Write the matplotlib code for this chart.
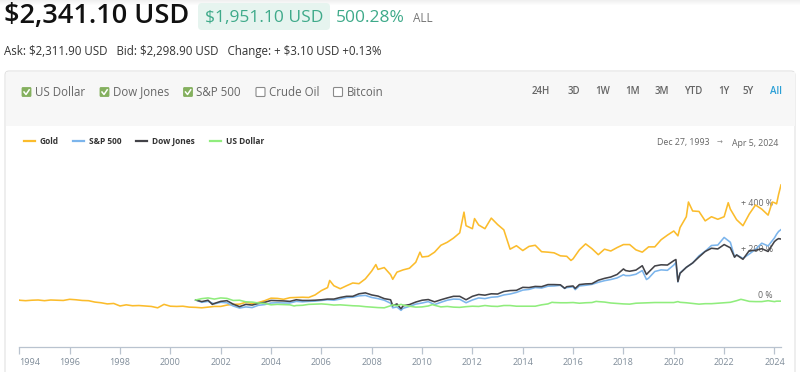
import pandas as pd
import matplotlib
matplotlib.use("Agg")
import matplotlib.pyplot as plt
from matplotlib.patches import FancyBboxPatch, Rectangle
from matplotlib.lines import Line2D
from matplotlib.transforms import Affine2D

plt.rcParams['font.family'] = ['Open Sans', 'DejaVu Sans']

# percent change from first value
gold_dates = ["1993-12-27",
    "1994-01", "1994-04", "1994-07", "1994-10", "1995-01", "1995-04", "1995-07", "1995-10",
    "1996-01", "1996-04", "1996-07", "1996-10", "1997-01", "1997-04", "1997-07", "1997-10",
    "1998-01", "1998-04", "1998-07", "1998-10", "1999-01", "1999-04", "1999-07", "1999-10",
    "2000-01", "2000-04", "2000-07", "2000-10", "2001-01", "2001-04", "2001-07", "2001-10",
    "2002-01", "2002-04", "2002-07", "2002-10", "2003-01", "2003-04", "2003-07", "2003-10",
    "2004-01", "2004-04", "2004-07", "2004-10", "2005-01", "2005-04", "2005-07", "2005-10",
    "2006-01", "2006-04", "2006-05", "2006-07", "2006-10", "2007-01", "2007-04", "2007-07", "2007-10",
    "2008-01", "2008-03", "2008-04", "2008-07", "2008-10", "2008-11",
    "2009-01", "2009-04", "2009-07", "2009-10", "2009-12", "2010-01", "2010-04", "2010-07", "2010-10",
    "2011-01", "2011-04", "2011-07", "2011-09", "2011-10", "2012-01", "2012-02", "2012-04", "2012-07", "2012-10",
    "2013-01", "2013-04", "2013-07", "2013-10", "2014-01", "2014-04", "2014-07", "2014-10",
    "2015-01", "2015-04", "2015-07", "2015-10", "2015-12", "2016-01", "2016-04", "2016-07", "2016-10",
    "2017-01", "2017-04", "2017-07", "2017-10", "2018-01", "2018-04", "2018-07", "2018-10",
    "2019-01", "2019-04", "2019-07", "2019-10", "2020-01", "2020-03", "2020-04", "2020-07", "2020-08", "2020-10",
    "2021-01", "2021-04", "2021-07", "2021-10", "2022-01", "2022-03", "2022-04", "2022-07", "2022-10",
    "2023-01", "2023-04", "2023-07", "2023-10", "2023-12", "2024-01", "2024-02", "2024-03", "2024-04-05"]
gold_pct = [0,
    -1, -3, -1, 0, -3, 0, -1, -2,
    3, 1, -2, -3, -9, -12, -17, -15,
    -26, -21, -25, -24, -26, -28, -34, -19,
    -27, -28, -27, -31, -32, -34, -31, -28,
    -28, -22, -19, -18, -10, -15, -11, -3,
    8, 7, 3, 10, 11, 12, 11, 22,
    41, 54, 85, 62, 49, 62, 74, 71, 92,
    126, 154, 133, 141, 110, 90,
    121, 131, 138, 164, 208, 187, 190, 208, 238,
    251, 269, 292, 382, 323, 310, 354, 326, 310, 356,
    328, 305, 221, 236, 215, 233, 238, 210,
    208, 205, 192, 190, 172, 179, 218, 244, 223,
    197, 221, 213, 228, 241, 241, 218, 208,
    231, 231, 262, 282, 300, 279, 315, 362, 426, 387,
    385, 344, 362, 351, 362, 423, 395, 349, 323,
    374, 413, 395, 369, 426, 423, 418, 459, 500.28]

sp_dates = ["2001-01-02", "2001-04", "2001-07", "2001-10",
    "2002-01", "2002-04", "2002-07", "2002-10", "2003-01", "2003-04", "2003-07", "2003-10",
    "2004-01", "2004-04", "2004-07", "2004-10", "2005-01", "2005-04", "2005-07", "2005-10",
    "2006-01", "2006-04", "2006-07", "2006-10", "2007-01", "2007-04", "2007-07", "2007-10",
    "2008-01", "2008-04", "2008-07", "2008-10", "2008-11", "2009-01", "2009-03", "2009-04", "2009-07", "2009-10",
    "2010-01", "2010-04", "2010-07", "2010-10", "2011-01", "2011-04", "2011-07", "2011-10",
    "2012-01", "2012-04", "2012-07", "2012-10", "2013-01", "2013-04", "2013-07", "2013-10",
    "2014-01", "2014-04", "2014-07", "2014-10", "2015-01", "2015-04", "2015-07", "2015-09", "2015-10",
    "2016-01", "2016-02", "2016-04", "2016-07", "2016-10", "2017-01", "2017-04", "2017-07", "2017-10",
    "2018-01", "2018-02", "2018-04", "2018-07", "2018-10", "2018-12", "2019-01", "2019-04", "2019-07", "2019-10",
    "2020-01", "2020-02", "2020-03", "2020-04", "2020-07", "2020-10", "2021-01", "2021-04", "2021-07", "2021-10",
    "2022-01", "2022-04", "2022-06", "2022-07", "2022-10", "2023-01", "2023-04", "2023-07", "2023-10",
    "2024-01", "2024-02", "2024-03", "2024-04-05"]
sp_pct = [0, -10, -6, -17,
    -10, -12, -26, -35, -30, -33, -23, -20,
    -13, -12, -13, -13, -6, -8, -6, -5,
    -2, 1, -1, 4, 11, 12, 18, 20,
    11, 6, -1, -14, -34, -30, -45, -36, -28, -18,
    -13, -7, -20, -10, -1, 4, 3, -12,
    0, 9, 6, 12, 14, 22, 26, 33,
    43, 46, 54, 52, 60, 61, 64, 50, 54,
    57, 45, 61, 64, 68, 77, 84, 89, 96,
    110, 106, 106, 112, 128, 89, 95, 124, 131, 129,
    152, 163, 79, 118, 142, 161, 192, 212, 237, 239,
    272, 251, 188, 196, 181, 200, 220, 247, 235,
    270, 286, 298, 306]

dow_dates = ["2001-01-02", "2001-04", "2001-07", "2001-09", "2001-10",
    "2002-01", "2002-04", "2002-07", "2002-10", "2003-01", "2003-04", "2003-07", "2003-10",
    "2004-01", "2004-04", "2004-07", "2004-10", "2005-01", "2005-04", "2005-07", "2005-10",
    "2006-01", "2006-04", "2006-07", "2006-10", "2007-01", "2007-04", "2007-07", "2007-10",
    "2008-01", "2008-04", "2008-07", "2008-10", "2008-11", "2009-01", "2009-03", "2009-04", "2009-07", "2009-10",
    "2010-01", "2010-04", "2010-07", "2010-10", "2011-01", "2011-04", "2011-07", "2011-10",
    "2012-01", "2012-04", "2012-07", "2012-10", "2013-01", "2013-04", "2013-07", "2013-10",
    "2014-01", "2014-04", "2014-07", "2014-10", "2015-01", "2015-04", "2015-07", "2015-09", "2015-10",
    "2016-01", "2016-02", "2016-04", "2016-07", "2016-10", "2017-01", "2017-04", "2017-07", "2017-10",
    "2018-01", "2018-02", "2018-04", "2018-07", "2018-10", "2018-12", "2019-01", "2019-04", "2019-07", "2019-10",
    "2020-01", "2020-02", "2020-03", "2020-04", "2020-07", "2020-10", "2021-01", "2021-04", "2021-07", "2021-10",
    "2022-01", "2022-04", "2022-06", "2022-07", "2022-10", "2023-01", "2023-04", "2023-07", "2023-10",
    "2024-01", "2024-02", "2024-03", "2024-04-05"]
dow_pct = [0, -7, -1, -19, -15,
    -6, -3, -18, -29, -19, -22, -15, -10,
    -2, -3, -4, -6, 1, -2, -2, -1,
    1, 4, 4, 11, 16, 16, 27, 31,
    22, 17, 6, 1, -25, -17, -38, -25, -20, -9,
    -1, 2, -8, 1, 9, 16, 16, 1,
    16, 24, 21, 27, 26, 37, 41, 42,
    55, 54, 59, 58, 67, 67, 66, 51, 58,
    61, 50, 67, 70, 71, 86, 94, 100, 111,
    135, 128, 125, 130, 149, 111, 121, 148, 153, 152,
    171, 176, 80, 116, 142, 161, 187, 211, 225, 222,
    241, 227, 186, 196, 177, 215, 216, 223, 211,
    254, 262, 267, 265]

usd_dates = ["2001-01-02", "2001-04", "2001-07", "2001-10",
    "2002-01", "2002-04", "2002-07", "2002-10", "2003-01", "2003-04", "2003-07", "2003-10",
    "2004-01", "2004-04", "2004-07", "2004-10", "2004-12", "2005-01", "2005-04", "2005-07", "2005-10",
    "2006-01", "2006-04", "2006-07", "2006-10", "2007-01", "2007-04", "2007-07", "2007-10",
    "2008-01", "2008-04", "2008-07", "2008-10", "2008-11", "2009-01", "2009-03", "2009-04", "2009-07", "2009-10",
    "2010-01", "2010-04", "2010-06", "2010-07", "2010-10", "2011-01", "2011-04", "2011-07", "2011-10",
    "2012-01", "2012-04", "2012-07", "2012-10", "2013-01", "2013-04", "2013-07", "2013-10",
    "2014-01", "2014-04", "2014-07", "2014-10", "2015-01", "2015-03", "2015-04", "2015-07", "2015-10",
    "2016-01", "2016-04", "2016-07", "2016-10", "2016-12", "2017-01", "2017-04", "2017-07", "2017-10",
    "2018-01", "2018-04", "2018-07", "2018-10", "2019-01", "2019-04", "2019-07", "2019-10",
    "2020-01", "2020-03", "2020-04", "2020-07", "2020-10", "2021-01", "2021-04", "2021-07", "2021-10",
    "2022-01", "2022-04", "2022-07", "2022-09", "2022-10", "2023-01", "2023-04", "2023-07", "2023-10",
    "2024-01", "2024-02", "2024-03", "2024-04-05"]
usd_pct = [0, 6, 9, 4,
    9, 7, -2, -1, -8, -9, -13, -15,
    -21, -19, -20, -21, -26, -24, -23, -19, -18,
    -17, -19, -22, -21, -23, -25, -26, -29,
    -31, -33, -34, -25, -21, -25, -19, -22, -27, -31,
    -30, -26, -20, -23, -30, -28, -31, -32, -29,
    -27, -28, -24, -27, -28, -24, -24, -27,
    -27, -27, -27, -21, -17, -10, -11, -12, -12,
    -11, -14, -12, -11, -6, -7, -9, -13, -15,
    -17, -18, -14, -13, -12, -11, -11, -11,
    -11, -7, -10, -12, -15, -18, -16, -16, -14,
    -12, -10, -3, 3, 1, -6, -7, -7, -3,
    -7, -5, -5, -5]

series_names = ["Gold", "S&P 500", "Dow Jones", "US Dollar"]
series_colors = ["#fbbc2c", "#7cb5ec", "#434348", "#90ed7d"]
series_data = [(gold_dates, gold_pct), (sp_dates, sp_pct), (dow_dates, dow_pct), (usd_dates, usd_pct)]

tick_years = list(range(1994, 2025, 2))
grid_levels = [0, 200, 400]
grid_labels = ["0 %", "+ 200 %", "+ 400 %"]

W, H = 800, 372
fig = plt.figure(figsize=(W / 100, H / 100), dpi=100)
fig.patch.set_facecolor("white")
# pixel coordinates measured from the top-left corner
pix = Affine2D().scale(1 / W, -1 / H).translate(0, 1) + fig.transFigure

# faint shadow along the top edge
for i in range(5):
    fig.add_artist(Rectangle((0, i), W, 1, transform=pix, facecolor="#000000",
                             alpha=0.06 * (5 - i) / 5, edgecolor="none", zorder=-4))

# header
fig.text(4, 23, "$2,341.10 USD", transform=pix, fontsize=19.5, color="#111111", va="baseline",
         fontweight="semibold")
fig.add_artist(FancyBboxPatch((198, 3), 132, 27, boxstyle="round,pad=0,rounding_size=4",
                              transform=pix, facecolor="#e6f4ef", edgecolor="none", zorder=-3))
fig.text(205, 22, "$1,951.10 USD", transform=pix, fontsize=12.5, color="#3faa8a", va="baseline")
fig.text(336, 22, "500.28%", transform=pix, fontsize=12.5, color="#3faa8a", va="baseline")
fig.text(413, 22, "ALL", transform=pix, fontsize=8.5, color="#777777", va="baseline")
fig.text(4, 54.5, "Ask: $2,311.90 USD   Bid: $2,298.90 USD   Change: + $3.10 USD +0.13%",
         transform=pix, fontsize=8.3, color="#333333", va="baseline")

# panel
fig.add_artist(FancyBboxPatch((5, 71), 790, 310, boxstyle="round,pad=0,rounding_size=4",
                              transform=pix, facecolor="white", edgecolor="#e2e2e2", linewidth=0.8,
                              zorder=-3))
fig.add_artist(Rectangle((5.5, 71.5), 789, 54, transform=pix, facecolor="#f7f7f7", edgecolor="none",
                         zorder=-2))

checks = [("US Dollar", 22, True), ("Dow Jones", 100, True), ("S&P 500", 183.5, True),
          ("Crude Oil", 256, False), ("Bitcoin", 333.5, False)]
for label, bx, on in checks:
    if on:
        fig.add_artist(FancyBboxPatch((bx, 87.5), 9, 9, boxstyle="round,pad=0,rounding_size=1",
                                      transform=pix, facecolor="#84b05e", edgecolor="#84b05e", linewidth=0.6))
        fig.add_artist(Line2D([bx + 2, bx + 4, bx + 7.2], [92, 94.5, 89.8], transform=pix,
                              color="white", linewidth=1.1))
    else:
        fig.add_artist(FancyBboxPatch((bx, 87.5), 9, 9, boxstyle="round,pad=0,rounding_size=1",
                                      transform=pix, facecolor="white", edgecolor="#8a8a8a", linewidth=0.8))
    fig.text(bx + 13, 92, label, transform=pix, fontsize=8.3, color="#666666", va="center")

ranges = [("24H", 541), ("3D", 574), ("1W", 603), ("1M", 633), ("3M", 662),
          ("YTD", 693.5), ("1Y", 724), ("5Y", 748), ("All", 776)]
for label, cx in ranges:
    fig.text(cx, 92, label, transform=pix, fontsize=7, color="#2a9fd6" if label == "All" else "#666666",
             ha="center", va="center", fontweight="semibold")

# legend
legend_x = [24, 73, 136, 209.5]
for name, color, lx in zip(series_names, series_colors, legend_x):
    fig.add_artist(Line2D([lx, lx + 11], [141, 141], transform=pix, color=color, linewidth=1.6))
    fig.text(lx + 16, 141, name, transform=pix, fontsize=6, color="#333333", va="center", fontweight="bold")

fig.text(709.5, 143, "Dec 27, 1993", transform=pix, fontsize=6.3, color="#666666", ha="right", va="center")
fig.text(720, 143, "\u2192", transform=pix, fontsize=5, color="#888888", ha="center", va="center",
         family=["DejaVu Sans"])
fig.text(731.5, 143, "Apr 5, 2024", transform=pix, fontsize=6.3, color="#666666", ha="left", va="center")

# chart
ax_left, ax_right, ax_top, ax_bottom = 19, 781, 160, 346.5
ax = fig.add_axes([ax_left / W, 1 - ax_bottom / H, (ax_right - ax_left) / W, (ax_bottom - ax_top) / H])
ax.set_zorder(2)
ax.patch.set_alpha(0)
zero_y, px_per_pct = 300, 0.23
ax.set_ylim(-(ax_bottom - zero_y) / px_per_pct, (zero_y - ax_top) / px_per_pct)
ax.set_xlim(pd.Timestamp("1993-12-27"), pd.Timestamp("2024-04-05"))

for (dates, vals), color in zip(series_data, series_colors):
    ax.plot(pd.to_datetime(dates, format="ISO8601"), vals, color=color, linewidth=1.15, zorder=3,
            solid_joinstyle="round")

for lvl, lab in zip(grid_levels, grid_labels):
    ax.annotate(lab, xy=(1, lvl), xycoords=("axes fraction", "data"), xytext=(-6, 3),
                textcoords="offset points", ha="right", va="center", fontsize=6.3,
                color="#666666", zorder=1)

for s in ["top", "right", "left"]:
    ax.spines[s].set_visible(False)
ax.spines["bottom"].set_color("#b9c3cf")
ax.spines["bottom"].set_linewidth(0.9)
ax.set_yticks([])
ax.set_xticks(pd.to_datetime([f"{y}-01-01" for y in tick_years]))
ax.set_xticklabels([str(y) for y in tick_years])
ax.tick_params(axis="x", length=5, width=0.9, color="#b9c3cf", labelsize=6.5,
               labelcolor="#7f8c99", pad=3)
ax.get_xticklabels()[0].set_ha("left")

fig.savefig("out.png", dpi=100)
